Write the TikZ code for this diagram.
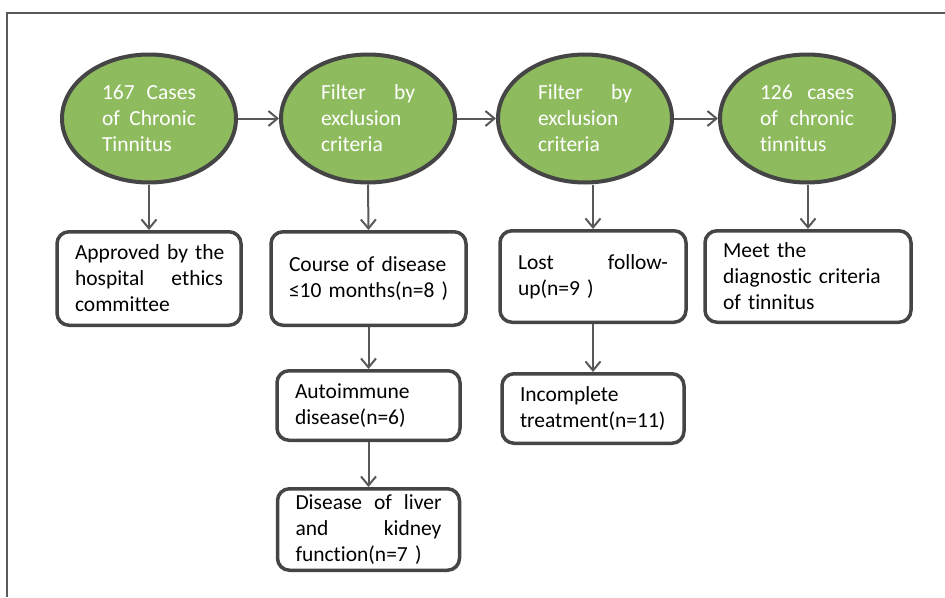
\documentclass[tikz,border=0pt]{standalone}
\usepackage{fontspec}
\setmainfont[Ligatures=NoCommon]{Carlito}
\usetikzlibrary{shapes.geometric,arrows.meta}
\definecolor{fillgreen}{HTML}{8FBB5F}
\definecolor{edgegray}{HTML}{454545}
\definecolor{arrowgray}{HTML}{595959}
\definecolor{framegray}{HTML}{5A5A5A}
\begin{document}
\begin{tikzpicture}[x=1pt,y=-1pt,
  txt/.style={font=\fontsize{21.5}{26}\selectfont},
  oval/.style={txt, ellipse, draw=edgegray, line width=4pt, fill=fillgreen,
    minimum width=174pt, minimum height=128pt, inner sep=0pt,
    text=white, text width=94pt, align=left},
  card/.style={txt, rectangle, rounded corners=12pt, draw=edgegray, line width=3.5pt,
    fill=white, inner xsep=18pt, inner ysep=0pt, align=left, text=black},
  link/.style={draw=arrowgray, line width=2pt, -{Straight Barb[length=9pt,width=15pt]}}
]
\useasboundingbox (0,0) rectangle (945,597);
\draw[framegray, line width=2pt] (7,597) -- (7,13) -- (946,13);

\node[oval] (e1) at (149,118.5) {167\hfill Cases\\ of\hfill Chronic\\ Tinnitus};
\node[oval] (e2) at (368,118.5) {Filter\hfill by\\ exclusion\\ criteria};
\node[oval] (e3) at (585,118.5) {Filter\hfill by\\ exclusion\\ criteria};
\node[oval] (e4) at (807,118.5) {126\hfill cases\\ of\hfill chronic\\ tinnitus};

\node[card, text width=148pt, minimum height=93.5pt] (b1) at (149,278.5)
  {\mbox{Approved by the}\\ hospital\hfill ethics\\ committee};
\node[card, text width=159pt, minimum height=93.5pt] (b2) at (368.5,278.5)
  {\mbox{Course of disease}\\ \mbox{≤10 months(n=8 )}};
\node[card, text width=150pt, minimum height=91.5pt] (b3) at (593,276.5)
  {Lost\hfill follow-\\ \mbox{up(n=9 )}};
\node[card, text width=170pt, minimum height=91.5pt] (b4) at (808,276.5)
  {\mbox{Meet the}\\ \mbox{diagnostic criteria}\\ \mbox{of tinnitus}};
\node[card, text width=146pt, minimum height=69.5pt] (b5) at (593,408.5)
  {Incomplete\\ treatment(n=11)};
\node[card, text width=147pt, minimum height=69.5pt] (b6) at (368.5,405.5)
  {Autoimmune\\ disease(n=6)};
\node[card, text width=146pt, minimum height=81.5pt] (b7) at (368.5,529.5)
  {Disease\hfill of\hfill liver\\ and\hfill kidney\\ \mbox{function(n=7 )}};

\draw[link] (e1.east) -- (e2.west);
\draw[link] (e2.east) -- (e3.west);
\draw[link] (e3.east) -- (e4.west);
\draw[link] (e1.south) -- (b1.north);
\draw[link] (e2.south) -- (b2.north);
\draw[link] (b3.north |- e3.south) -- (b3.north);
\draw[link] (b4.north |- e4.south) -- (b4.north);
\draw[link] (b2.south) -- (b6.north);
\draw[link] (b3.south) -- (b5.north);
\draw[link] (b6.south) -- (b7.north);
\end{tikzpicture}
\end{document}
